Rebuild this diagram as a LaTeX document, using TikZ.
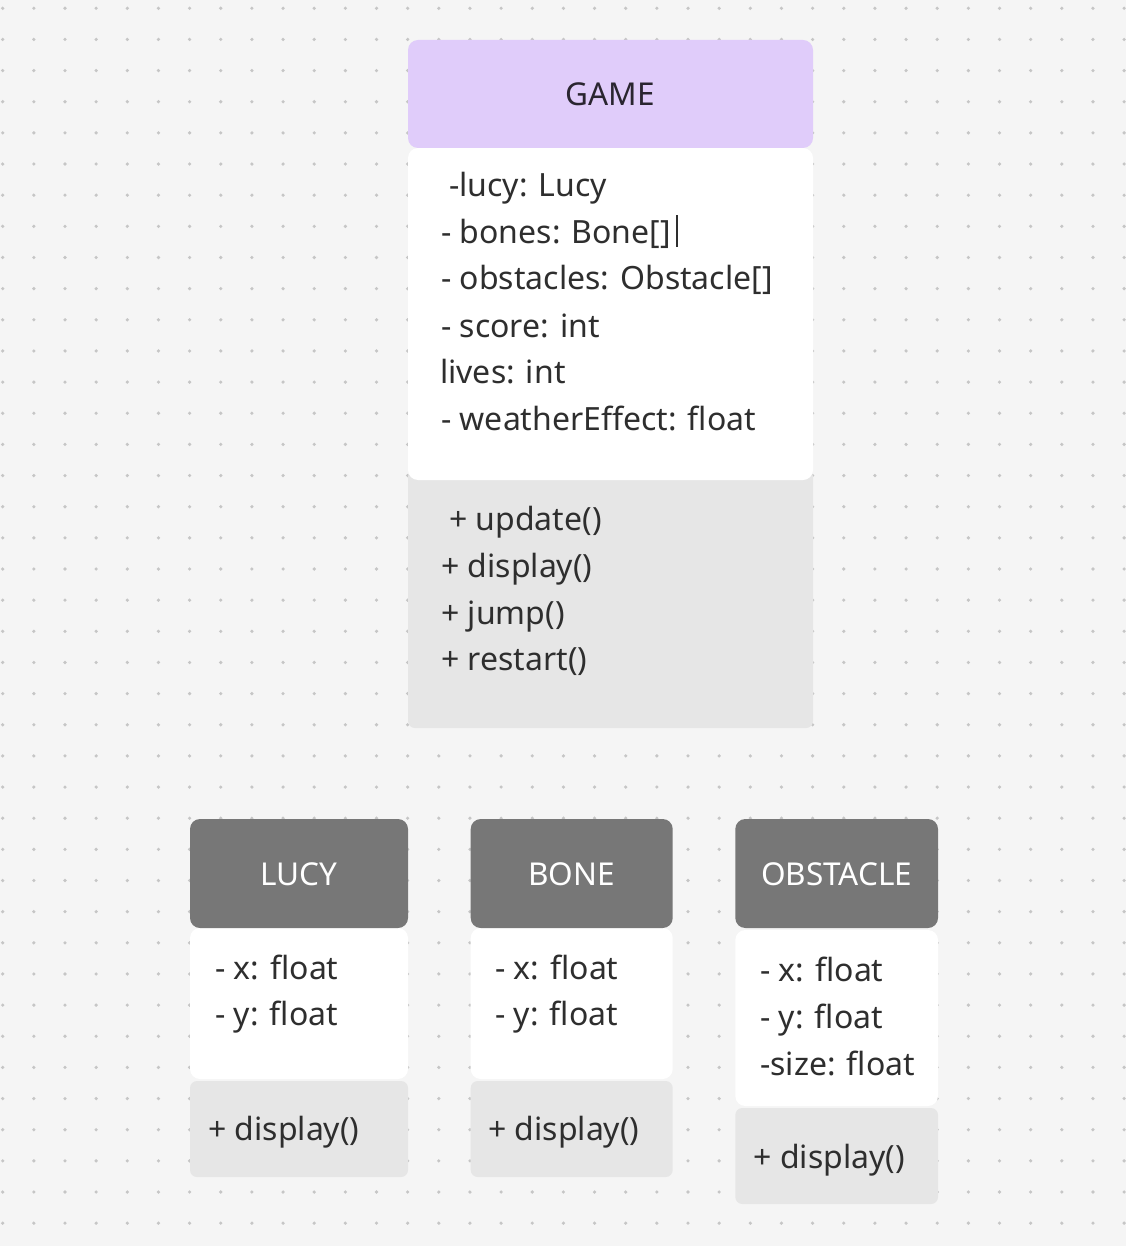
\documentclass[tikz,border=0pt]{standalone}
\usepackage{fontspec}
\setmainfont{Noto Sans}
\definecolor{bg}{HTML}{F5F5F5}
\definecolor{dotc}{HTML}{C6C6C6}
\definecolor{lav}{HTML}{E0CCFA}
\definecolor{hdr}{HTML}{777777}
\definecolor{meth}{HTML}{E6E6E6}
\definecolor{ink}{HTML}{2E2E2E}
\definecolor{titleink}{HTML}{2A2530}
\begin{document}
\begin{tikzpicture}[x=1pt,y=-1pt,
  txt/.style={font=\fontsize{32}{38}\selectfont, text=ink, inner sep=0pt, anchor=base west},
  ttl/.style={font=\fontsize{31.5}{38}\selectfont, inner sep=0pt, anchor=base},
  hbox/.style={rounded corners=10pt},
  mbox/.style={fill=meth, rounded corners=7pt}]
\fill[bg] (0,0) rectangle (1126,1246);
\useasboundingbox (0,0) rectangle (1126,1246);
\foreach \i in {0,...,36}{\foreach \j in {0,...,39}{
  \fill[dotc] ({2.7+31.15*\i},{8.3+31.15*\j}) circle (1.8pt);}}
% GAME
\fill[mbox] (408,470) rectangle (813,728);
\fill[white,hbox] (408,148) rectangle (813,480);
\fill[lav,hbox] (408,40) rectangle (813,148);
\node[ttl,text=titleink] (game) at (610.5,106) {GAME};
\node[txt] (g1) at (449,197) {-lucy: Lucy};
\node[txt] (g2) at (441,243.5) {- bones: Bone[]};
\node[txt] (g3) at (441,290) {- obstacles: Obstacle[]};
\node[txt] (g4) at (441,337) {- score: int};
\node[txt] (g5) at (440,383) {lives: int};
\node[txt] (g6) at (441,430) {- weatherEffect: float};
\draw[ink,line width=2pt] ([xshift=6pt,yshift=-3.5pt]g2.base east) -- ++(0,-32);
\node[txt] (m1) at (449,530.7) {+ update()};
\node[txt] (m2) at (441,577.3) {+ display()};
\node[txt] (m3) at (441,624) {+ jump()};
\node[txt] (m4) at (441,670.7) {+ restart()};
% LUCY
\fill[mbox] (190,1081) rectangle (408,1177);
\fill[white,hbox] (190,928) rectangle (408,1079);
\fill[hdr,hbox] (190,819) rectangle (408,928);
\node[ttl,text=white] (lucy) at (299,885) {LUCY};
\node[txt] (l1) at (215,979.3) {- x: float};
\node[txt] (l2) at (215,1025) {- y: float};
\node[txt] (l3) at (208,1140) {+ display()};
% BONE
\fill[mbox] (470.7,1081) rectangle (672.7,1177);
\fill[white,hbox] (470.7,928) rectangle (672.7,1079);
\fill[hdr,hbox] (470.7,819) rectangle (672.7,928);
\node[ttl,text=white] (bone) at (571.7,885) {BONE};
\node[txt] (b1) at (495,979.3) {- x: float};
\node[txt] (b2) at (495,1025) {- y: float};
\node[txt] (b3) at (488,1140) {+ display()};
% OBSTACLE
\fill[mbox] (735.3,1108) rectangle (938,1204);
\fill[white,hbox] (735.3,930) rectangle (938,1106);
\fill[hdr,hbox] (735.3,819) rectangle (938,928);
\node[ttl,text=white] (obst) at (836.7,885) {OBSTACLE};
\node[txt] (o1) at (760,981.7) {- x: float};
\node[txt] (o2) at (760,1028.3) {- y: float};
\node[txt] (o3) at (760,1075.7) {-size: float};
\node[txt] (o4) at (753.3,1168) {+ display()};
\end{tikzpicture}
\end{document}
